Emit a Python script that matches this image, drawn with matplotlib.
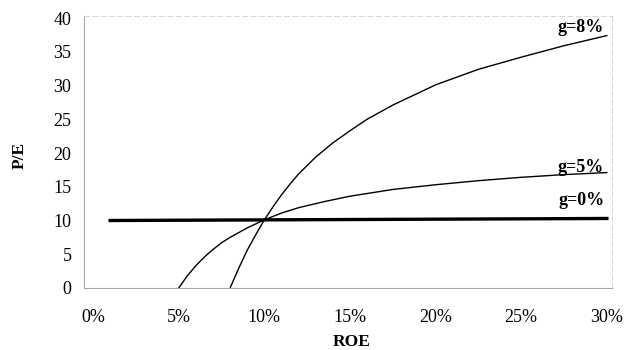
import matplotlib.pyplot as plt

# values (ROE in %, P/E)
roe_g0 = [1, 30]
pe_g0 = [10.0, 10.3]

roe_g5 = [5, 5.5, 6, 6.5, 7, 7.5, 8, 9, 10, 11, 12, 13.5, 15, 17.5, 20, 22.5, 25, 27.5, 30]
pe_g5 = [0, 1.8, 3.3, 4.6, 5.7, 6.7, 7.5, 8.9, 10.1, 11.1, 11.9, 12.8, 13.6, 14.6,
         15.3, 15.9, 16.4, 16.8, 17.1]

roe_g8 = [8, 8.5, 9, 9.5, 10, 10.5, 11, 11.5, 12, 13, 14, 15, 16, 17.5, 20, 22.5, 25, 27.5, 30]
pe_g8 = [0, 2.9, 5.6, 7.9, 10.1, 12.0, 13.8, 15.4, 16.9, 19.4, 21.5, 23.3, 25.0, 27.1,
         30.1, 32.4, 34.2, 35.9, 37.4]

x_ticks = [0, 5, 10, 15, 20, 25, 30]
y_ticks = [0, 5, 10, 15, 20, 25, 30, 35, 40]

plt.rcParams['font.family'] = ['Liberation Serif', 'DejaVu Serif']

fig = plt.figure(figsize=(6.25, 3.5), dpi=100)
ax = fig.add_axes([84 / 625, 1 - 288 / 350, (612 - 84) / 625, (288 - 16) / 350])

ax.plot(roe_g0, pe_g0, color='black', lw=2.4)
ax.plot(roe_g5, pe_g5, color='black', lw=1.0)
ax.plot(roe_g8, pe_g8, color='black', lw=1.0)

ax.set_xlim(-0.53, 30.3)
ax.set_ylim(0, 40.3)
ax.set_xticks(x_ticks)
ax.set_xticklabels([f'{t}%' for t in x_ticks])
ax.set_yticks(y_ticks)
ax.tick_params(length=0, labelsize=13)
ax.tick_params(axis='x', pad=15)
ax.tick_params(axis='y', pad=9)

for side in ['left', 'bottom']:
    ax.spines[side].set_color('#a8a8a8')
    ax.spines[side].set_linewidth(0.8)
for side in ['top', 'right']:
    ax.spines[side].set_color('#d0d0d0')
    ax.spines[side].set_linewidth(0.6)
    ax.spines[side].set_linestyle((0, (6, 4)))

ax.text(28.5, 38.6, 'g=8%', ha='center', va='center', fontsize=13, fontweight='bold')
ax.text(28.5, 17.9, 'g=5%', ha='center', va='center', fontsize=13, fontweight='bold')
ax.text(28.5, 13.0, 'g=0%', ha='center', va='center', fontsize=13, fontweight='bold')

fig.text(20 / 625, 1 - 155 / 350, 'P/E', rotation=90, ha='center', va='center',
         fontsize=12.5, fontweight='bold')
fig.text(352 / 625, 1 - 342 / 350, 'ROE', ha='center', va='center',
         fontsize=12.5, fontweight='bold')

plt.savefig('out.png', dpi=100)
